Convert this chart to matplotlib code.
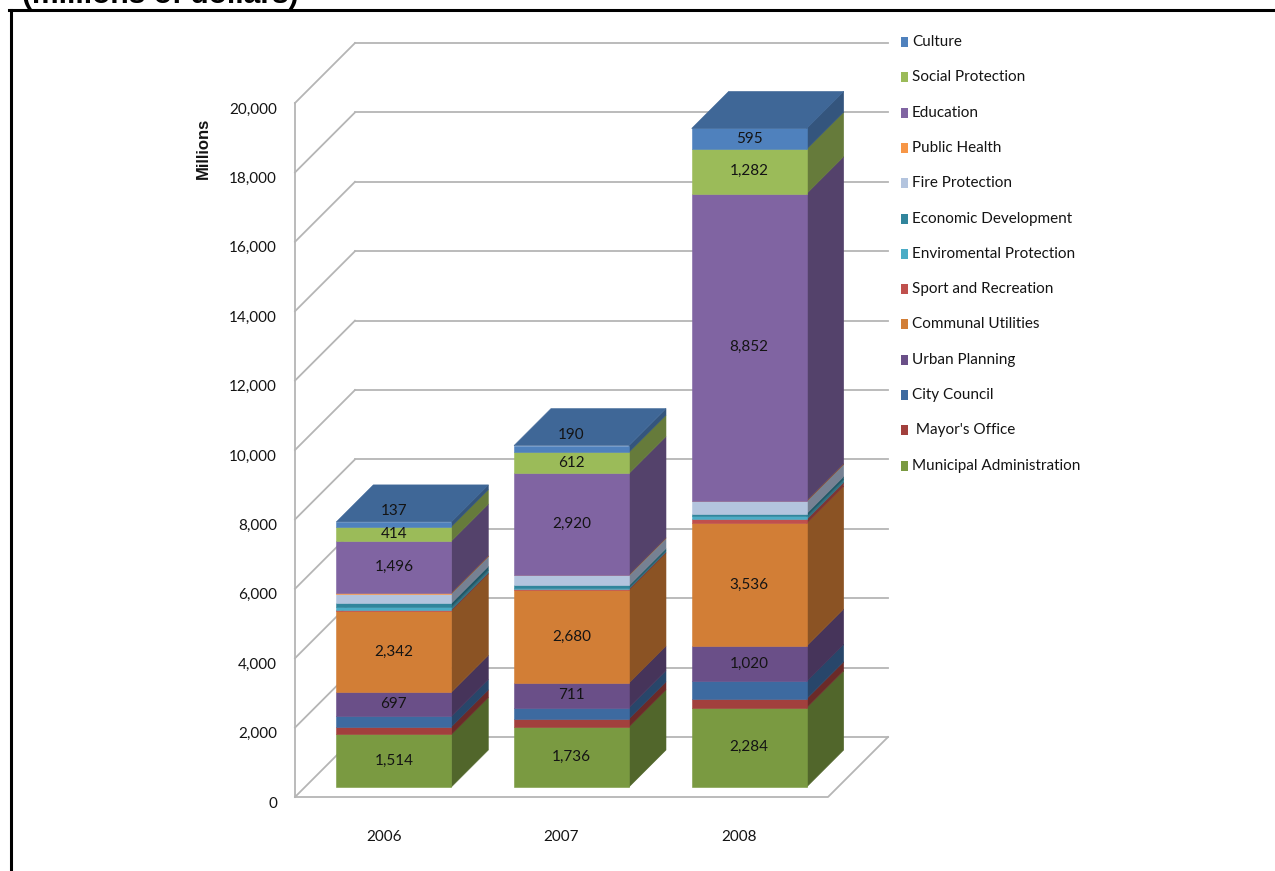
import matplotlib
matplotlib.use("Agg")
import matplotlib.pyplot as plt
import matplotlib.transforms as mtransforms
from matplotlib.patches import Polygon, Rectangle
from matplotlib.lines import Line2D
from matplotlib.colors import to_rgb

years = ["2006", "2007", "2008"]

# spending per department, millions, listed bottom to top of each stack
municipal_admin = [1514, 1736, 2284]
mayors_office = [220, 230, 260]
city_council = [300, 320, 500]
urban_planning = [697, 711, 1020]
communal_utilities = [2342, 2680, 3536]
sport_recreation = [30, 30, 110]
env_protection = [80, 40, 90]
economic_dev = [110, 60, 80]
fire_protection = [280, 290, 350]
public_health = [20, 20, 20]
education = [1496, 2920, 8852]
social_protection = [414, 612, 1282]
culture = [137, 190, 595]

series_names = ["Municipal Administration", " Mayor's Office", "City Council",
                "Urban Planning", "Communal Utilities", "Sport and Recreation",
                "Enviromental Protection", "Economic Development", "Fire Protection",
                "Public Health", "Education", "Social Protection", "Culture"]
series_values = [municipal_admin, mayors_office, city_council, urban_planning,
                 communal_utilities, sport_recreation, env_protection, economic_dev,
                 fire_protection, public_health, education, social_protection, culture]
series_colors = ["#7a9a41", "#a2403d", "#3d6aa0", "#6a4f88", "#d27e36", "#c0504d",
                 "#4bacc6", "#31859c", "#b3c4de", "#f79646", "#8064a2", "#9bbb59",
                 "#4f81bd"]
labelled = {"Municipal Administration", "Urban Planning", "Communal Utilities",
            "Education", "Social Protection", "Culture"}

y_ticks = list(range(0, 20001, 2000))

W, H = 1275, 871
FONT = ["Lato", "DejaVu Sans"]
FS = 11
TXT = "#141414"
GRID = "#b5b5b5"

fig = plt.figure(figsize=(W / 100, H / 100), dpi=100)
ax = fig.add_axes([295 / W, 74 / H, 533 / W, 694 / H])
ax.set_xlim(-0.5, 2.5)
ax.set_ylim(0, 20000)

# pixel -> data conversion for the fake depth
px_x = 533 / 3
px_y = 694 / 20000


def depth(px):
    return px / px_x, px / px_y


def shade(c, f):
    r, g, b = to_rgb(c)
    return (r * f, g * f, b * f)


wx, wy = depth(60)       # back wall offset
fx, fy = depth(10)       # bars sit a bit behind the front plane
bx, by = depth(37)       # bar depth
bar_w = 115 / px_x

# walls: diagonal + back gridlines, floor edges, front axis line
for v in y_ticks:
    ax.plot([-0.5, -0.5 + wx], [v, v + wy], color=GRID, lw=1.3, clip_on=False, zorder=1)
    ax.plot([-0.5 + wx, 2.5 + wx], [v + wy, v + wy], color=GRID, lw=1.3,
            clip_on=False, zorder=1)
ax.plot([-0.5, 2.5, 2.5 + wx], [0, 0, wy], color=GRID, lw=1.3, clip_on=False, zorder=1)
ax.plot([-0.5, -0.5], [0, 20000], color=GRID, lw=1.3, clip_on=False, zorder=1)

for j in range(len(years)):
    x0 = j - bar_w / 2 + fx
    x1 = x0 + bar_w
    base = fy
    for name, vals, col in zip(series_names, series_values, series_colors):
        v = vals[j]
        y0, y1 = base, base + v
        side = Polygon([(x1, y0), (x1 + bx, y0 + by), (x1 + bx, y1 + by), (x1, y1)],
                       closed=True, fc=shade(col, 0.66), ec=shade(col, 0.66), lw=0.4,
                       clip_on=False, zorder=3)
        ax.add_patch(side)
        ax.add_patch(Rectangle((x0, y0), bar_w, v, fc=col, ec=col, lw=0.4,
                               clip_on=False, zorder=4))
        if name in labelled:
            yc = (y0 + y1) / 2
            if v * px_y < 10:
                yc = y1 + 11 / px_y
            ax.text(x0 + bar_w / 2, yc, f"{v:,}", ha="center", va="center",
                    fontsize=FS, family=FONT, color=TXT, zorder=6)
        base = y1
    top_col = shade(series_colors[-1], 0.8)
    ax.add_patch(Polygon([(x0, base), (x0 + bx, base + by), (x1 + bx, base + by), (x1, base)],
                         closed=True, fc=top_col, ec=top_col, lw=0.4, clip_on=False, zorder=5))

for s in ax.spines.values():
    s.set_visible(False)
ax.set_facecolor("none")

ax.set_yticks(y_ticks, [f"{v:,}" for v in y_ticks])
ax.set_xticks(range(len(years)), years)
ax.tick_params(axis="y", length=0, pad=13, labelsize=FS, labelcolor=TXT)
ax.tick_params(axis="x", length=0, pad=24, labelsize=FS, labelcolor=TXT)
for lab in ax.get_yticklabels() + ax.get_xticklabels():
    lab.set_family(FONT)
shift = mtransforms.ScaledTranslation(0, -5 / 100, fig.dpi_scale_trans)
for lab in ax.get_yticklabels():
    lab.set_transform(lab.get_transform() + shift)

ax.set_ylabel("Millions", fontsize=12, fontweight="bold", family="Liberation Sans",
              color=TXT)
ax.yaxis.set_label_coords((211 - 295) / 533, (797 - 148) / 694)

# legend, top entry first
for k, idx in enumerate(reversed(range(len(series_names)))):
    ypx = 42 + k * 35.3
    fig.patches.append(Rectangle((901 / W, 1 - (ypx + 5) / H), 7 / W, 10 / H,
                                 transform=fig.transFigure, fc=series_colors[idx],
                                 ec="none"))
    fig.text(912 / W, 1 - ypx / H, series_names[idx], va="center", ha="left",
             fontsize=FS, family=FONT, color=TXT)

# page frame and the clipped heading above it
fig.add_artist(Line2D([9 / W, 1], [1 - 10.5 / H, 1 - 10.5 / H], transform=fig.transFigure,
                      color="black", lw=2.2))
fig.add_artist(Line2D([10.5 / W, 10.5 / W], [0, 1 - 10.5 / H], transform=fig.transFigure,
                      color="black", lw=2.2))
fig.text(22 / W, 1 - 3 / H, "(millions of dollars)", fontsize=21.6, fontweight="bold",
         family="Liberation Sans", va="baseline", ha="left", color="black")

fig.savefig("out.png", dpi=100)
